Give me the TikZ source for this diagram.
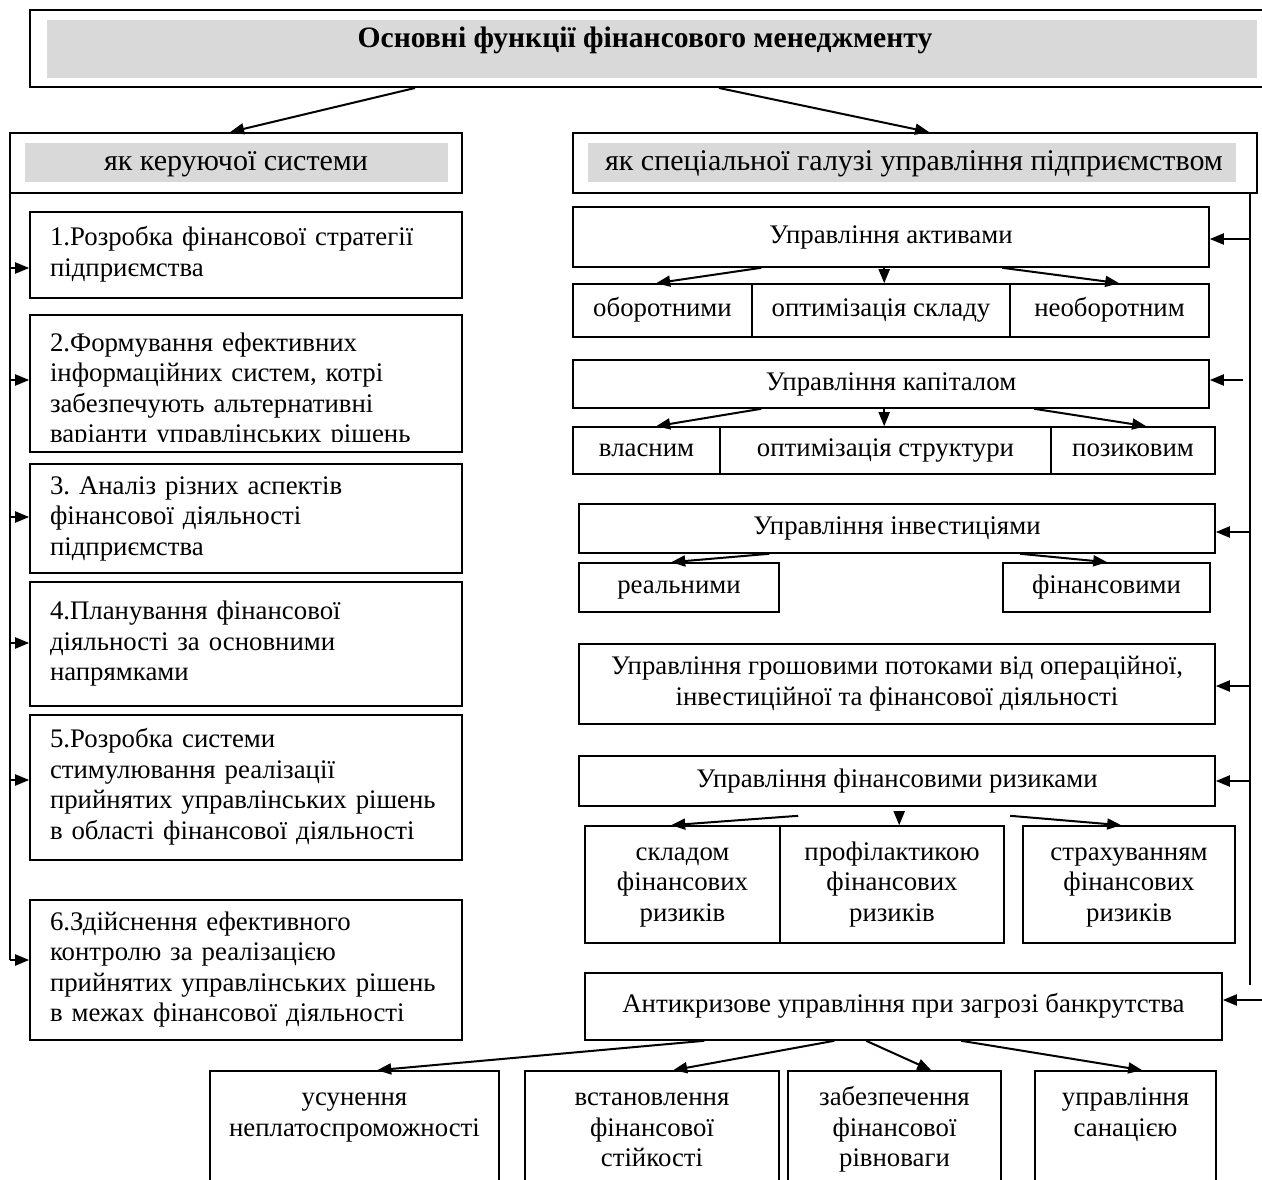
\documentclass[tikz,border=0pt]{standalone}
\usepackage{fontspec}
\setmainfont{Liberation Serif}
\frenchspacing
\usetikzlibrary{arrows.meta,calc}
\definecolor{hdrgray}{RGB}{217,217,217}
\newcommand\mkbox[7][]{\node[box,#1,minimum width={(#5)-(#3)},minimum height={(#6)-(#4)}] (#2) at ({((#3)+(#5))/2},{((#4)+(#6))/2}) {#7};}
\tikzset{
  txt/.style={inner sep=0pt, font=\fontsize{26.8}{30.5}\selectfont},
  hdr/.style={inner sep=0pt, font=\fontsize{30}{34}\selectfont, anchor=base},
  box/.style={txt, draw, line width=1.6pt, align=center},
  lbox/.style={align=left, text width=392pt},
  ltxt/.style={txt, align=left, text width=392pt},
  conn/.style={line width=2pt},
  arr/.style={line width=2pt, -{Triangle[length=14pt,width=11pt]}}
}
\begin{document}
\begin{tikzpicture}[x=1pt,y=-1pt]
\useasboundingbox (0,0) rectangle (1262,1180);
% title
\mkbox[line width=2pt]{title}{30}{10}{1266}{87}{}
\fill[hdrgray] (47,20) rectangle (1257,78);
\node[hdr, font=\fontsize{29.6}{34}\selectfont\bfseries] (ttl) at (645,48) {Основні функції фінансового менеджменту};
% headers
\mkbox[line width=1.8pt]{lh}{10}{133}{462}{193}{}
\fill[hdrgray] (25,143) rectangle (448,182);
\node[hdr] (lht) at (236,171) {як керуючої системи};
\mkbox[line width=1.8pt]{rh}{573}{133}{1257}{193}{}
\fill[hdrgray] (588,143) rectangle (1236,182);
\node[hdr] (rht) at (914,171) {як спеціальної галузі управління підприємством};
\draw[arr] ($(title.south west)+(386,0)$) -- ($(lh.north west)+(221,0)$);
\draw[arr] ($(title.south west)+(690,0)$) -- ($(rh.north west)+(357,0)$);
% left column
\mkbox[lbox]{b1}{30}{212}{462}{298}{\strut 1.Розробка фінансової стратегії\\підприємства\strut}
\mkbox[lbox]{b2}{30}{315}{462}{452}{}
\begin{scope}
\clip (30,315) rectangle (462,441);
\node[ltxt] (b2t) at (246,391) {\strut 2.Формування ефективних\\інформаційних систем, котрі\\забезпечують альтернативні\\варіанти управлінських рішень\strut};
\end{scope}
\mkbox[lbox]{b3}{30}{464}{462}{573}{\strut 3. Аналіз різних аспектів\\фінансової діяльності\\підприємства\strut}
\mkbox[lbox]{b4}{30}{582}{462}{706}{\strut 4.Планування фінансової\\діяльності за основними\\напрямками\strut}
\mkbox[lbox]{b5}{30}{715}{462}{860}{\strut 5.Розробка системи\\стимулювання реалізації\\прийнятих управлінських рішень\\в області фінансової діяльності\strut}
\mkbox[lbox]{b6}{30}{900}{462}{1040}{\strut 6.Здійснення ефективного\\контролю за реалізацією\\прийнятих управлінських рішень\\в межах фінансової діяльності\strut}
\coordinate (l1) at (10,268);
\coordinate (l2) at (10,380);
\coordinate (l3) at (10,517);
\coordinate (l4) at (10,643);
\coordinate (l5) at (10,780);
\coordinate (l6) at (10,960);
\draw[conn] (l1 |- lh.south) -- (l6);
\foreach \i in {1,...,6}{\draw[arr] (l\i) -- (l\i -| b\i.west);}
% right column
\mkbox{a}{573}{207}{1209}{267}{\strut Управління активами}
\mkbox{a1}{573}{284}{752}{337}{\strut оборотними}
\mkbox{a2}{752}{284}{1010}{337}{\strut оптимізація складу}
\mkbox{a3}{1010}{284}{1209}{337}{\strut необоротним}
\mkbox{k}{573}{360}{1209}{408}{\strut Управління капіталом}
\mkbox{k1}{573}{427}{720}{474}{\strut власним}
\mkbox{k2}{720}{427}{1051}{474}{\strut оптимізація структури}
\mkbox{k3}{1051}{427}{1215}{474}{\strut позиковим}
\mkbox{i}{579}{504}{1215}{553}{\strut Управління інвестиціями}
\mkbox{i1}{579}{563}{779}{612}{\strut реальними}
\mkbox{i2}{1003}{563}{1210}{612}{\strut фінансовими}
\mkbox{g}{579}{644}{1215}{724}{\strut Управління грошовими потоками від операційної,\\інвестиційної та фінансової діяльності\strut}
\mkbox{r}{579}{756}{1215}{806}{\strut Управління фінансовими ризиками}
\mkbox{r1}{585}{826}{780}{943}{\strut складом\\фінансових\\ризиків\strut}
\mkbox{r2}{780}{826}{1004}{943}{\strut профілактикою\\фінансових\\ризиків\strut}
\mkbox{r3}{1023}{826}{1235}{943}{\strut страхуванням\\фінансових\\ризиків\strut}
\mkbox{z}{585}{973}{1222}{1040}{\strut Антикризове управління при загрозі банкрутства}
\mkbox{z1}{210}{1071}{499}{1200}{}
\mkbox{z2}{525}{1071}{779}{1200}{}
\mkbox{z3}{788}{1071}{1001}{1200}{}
\mkbox{z4}{1035}{1071}{1216}{1200}{}
\node[txt, align=center] (z1t) at (354.5,1115) {\strut усунення\\неплатоспроможності\strut};
\node[txt, align=center] (z2t) at (652,1130) {\strut встановлення\\фінансової\\стійкості\strut};
\node[txt, align=center] (z3t) at (894.5,1130) {\strut забезпечення\\фінансової\\рівноваги\strut};
\node[txt, align=center] (z4t) at (1125.5,1115) {\strut управління\\санацією\strut};
% inner arrows
\draw[arr] ($(a.south west)+(189,0)$) -- ($(a1.north west)+(84,0)$);
\draw[arr] ($(a.south west)+(312,0)$) -- ($(a2.north west)+(133,0)$);
\draw[arr] ($(a.south west)+(430,0)$) -- ($(a3.north west)+(110,0)$);
\draw[arr] ($(k.south west)+(189,0)$) -- ($(k1.north west)+(84,0)$);
\draw[arr] ($(k.south west)+(312,0)$) -- ($(k2.north west)+(165,0)$);
\draw[arr] ($(k.south west)+(462,0)$) -- ($(k3.north west)+(96,0)$);
\draw[arr] ($(i.south west)+(191,0)$) -- ($(i1.north west)+(93,0)$);
\draw[arr] ($(i.south west)+(442,0)$) -- ($(i2.north west)+(105,0)$);
\draw[arr] ($(r.south west)+(220,9)$) -- ($(r1.north west)+(87,0)$);
\draw[arr] ($(r.south west)+(321,6)$) -- ($(r2.north west)+(120,0)$);
\draw[arr] ($(r.south west)+(432,9)$) -- ($(r3.north west)+(99,0)$);
\draw[arr] ($(z.south west)+(120,0)$) -- ($(z1.north west)+(168,0)$);
\draw[arr] ($(z.south west)+(250,0)$) -- ($(z2.north west)+(149,0)$);
\draw[arr] ($(z.south west)+(282,0)$) -- ($(z3.north west)+(144,0)$);
\draw[arr] ($(z.south west)+(377,0)$) -- ($(z4.north west)+(108,0)$);
% right feeder line
\coordinate (ra) at (1250,239);
\coordinate (rk) at (1243,380);
\coordinate (ri) at (1250,532);
\coordinate (rg) at (1250,686);
\coordinate (rr) at (1250,781);
\coordinate (rz) at (1262,1000);
\coordinate (rbot) at (1250,985);
\draw[conn] (ra |- rh.south) -- (rbot);
\draw[arr] (ra) -- (ra -| a.east);
\draw[arr] (rk) -- (rk -| k.east);
\draw[arr] (ri) -- (ri -| i.east);
\draw[arr] (rg) -- (rg -| g.east);
\draw[arr] (rr) -- (rr -| r.east);
\draw[arr] (rz) -- (rz -| z.east);
\end{tikzpicture}
\end{document}
